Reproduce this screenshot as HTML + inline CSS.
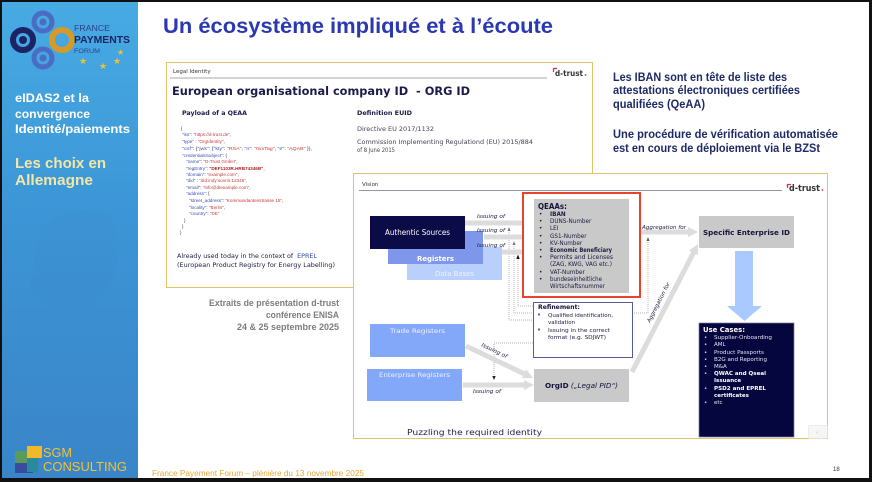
<!DOCTYPE html>
<html><head><meta charset="utf-8">
<style>
html,body{margin:0;padding:0;background:#fff;}
svg{display:block}
.v{font-family:"DejaVu Sans","Liberation Sans",sans-serif}
.c{font-family:"Liberation Sans","DejaVu Sans",sans-serif}
</style></head><body>
<svg width="876" height="482" viewBox="0 0 876 482" xmlns="http://www.w3.org/2000/svg">
<defs>
<linearGradient id="sb" x1="0" y1="0" x2="0" y2="1">
<stop offset="0" stop-color="#47abe3"/>
<stop offset="0.45" stop-color="#3c95d6"/>
<stop offset="1" stop-color="#3985c8"/>
</linearGradient>
<marker id="ga" viewBox="0 0 10 10" refX="0" refY="5" markerWidth="2" markerHeight="2" orient="auto"><path d="M0,0 L10,5 L0,10z" fill="#dcdcdc"/></marker>
</defs>
<!-- frame -->
<rect x="0" y="0" width="872" height="482" fill="#111"/>
<rect x="2" y="2" width="867" height="476" fill="#fff"/>
<!-- sidebar -->
<rect x="2" y="2" width="136" height="476" fill="url(#sb)"/>
<path d="M40 230 Q70 200 110 215 Q130 260 100 300 Q60 320 30 290 Z" fill="#3a8ccd" opacity="0.25"/>
<!-- logo -->
<circle cx="43" cy="22" r="9" fill="none" stroke="#4a6cc2" stroke-width="5"/>
<circle cx="43" cy="22" r="3.5" fill="#4a6cc2"/>
<circle cx="43" cy="58" r="9" fill="none" stroke="#4a6cc2" stroke-width="5"/>
<circle cx="43" cy="58" r="3.5" fill="#4a6cc2"/>
<circle cx="23" cy="40" r="10" fill="none" stroke="#1c2466" stroke-width="6"/>
<circle cx="23" cy="40" r="4" fill="#1c2466"/>
<circle cx="62" cy="40" r="10" fill="none" stroke="#d69a2a" stroke-width="6"/>
<text x="74" y="31" class="c" font-size="8.5" fill="#2d3f8a" textLength="36" lengthAdjust="spacingAndGlyphs">FRANCE</text>
<text x="74" y="43" class="c" font-size="10.5" font-weight="bold" fill="#1b2466" textLength="56" lengthAdjust="spacingAndGlyphs">PAYMENTS</text>
<text x="74" y="53" class="c" font-size="6.5" fill="#2d3f8a" textLength="26" lengthAdjust="spacingAndGlyphs">FORUM</text>
<text x="79" y="64" class="v" font-size="9" fill="#f2c232">★</text>
<text x="99" y="69" class="v" font-size="9" fill="#f2c232">★</text>
<text x="113" y="64" class="v" font-size="9" fill="#f2c232">★</text>
<text x="117" y="55" class="v" font-size="8" fill="#f2c232">★</text>
<!-- sidebar texts -->
<text x="15" y="102" class="c" font-size="11.5" font-weight="bold" fill="#fff" textLength="74" lengthAdjust="spacingAndGlyphs">eIDAS2 et la</text>
<text x="15" y="118" class="c" font-size="11.5" font-weight="bold" fill="#fff" textLength="75" lengthAdjust="spacingAndGlyphs">convergence</text>
<text x="15" y="133" class="c" font-size="11.5" font-weight="bold" fill="#fff" textLength="115" lengthAdjust="spacingAndGlyphs">Identité/paiements</text>
<text x="15" y="168" class="c" font-size="14.5" font-weight="bold" fill="#f4e7a6" textLength="91" lengthAdjust="spacingAndGlyphs">Les choix en</text>
<text x="15" y="185" class="c" font-size="14.5" font-weight="bold" fill="#f4e7a6" textLength="78" lengthAdjust="spacingAndGlyphs">Allemagne</text>
<!-- SGM logo -->
<rect x="27" y="446" width="15" height="12" fill="#f2b82a"/>
<rect x="15" y="451" width="12" height="12" fill="#5a9a5a"/>
<rect x="15" y="463" width="18" height="10" fill="#3a4aa0"/>
<rect x="27" y="458" width="11" height="14" fill="#2a8a9a"/>
<text x="43" y="457" class="c" font-size="13" fill="#f3c233" textLength="29" lengthAdjust="spacingAndGlyphs">SGM</text>
<text x="43" y="471" class="c" font-size="13" fill="#f3c233" textLength="84" lengthAdjust="spacingAndGlyphs">CONSULTING</text>
<!-- title -->
<text x="163" y="33" class="c" font-size="21" font-weight="bold" fill="#2a38b2" textLength="390" lengthAdjust="spacingAndGlyphs">Un écosystème impliqué et à l’écoute</text>
<!-- footer -->
<text x="152" y="476" class="c" font-size="8.5" fill="#e5a63a" textLength="212" lengthAdjust="spacingAndGlyphs">France Payement Forum – plénière du 13 novembre 2025</text>
<text x="833" y="471" class="c" font-size="6" fill="#333">18</text>

<!-- top card -->
<rect x="166.5" y="62.5" width="426" height="225" fill="#fff" stroke="#e2c468" stroke-width="1"/>
<text x="173" y="73" class="v" font-size="5.5" fill="#333">Legal Identity</text>
<line x1="170" y1="78" x2="547" y2="78" stroke="#8a8aa6" stroke-width="0.7"/>
<path d="M553.5 72 V68.5 H557" fill="none" stroke="#e0303a" stroke-width="1.3"/>
<text x="555" y="76" class="v" font-size="8" font-weight="bold" fill="#333" textLength="28" lengthAdjust="spacingAndGlyphs">d-trust</text>
<circle cx="585.5" cy="75" r="0.9" fill="#e0303a"/>
<text x="172" y="95" class="v" font-size="11.5" font-weight="bold" fill="#1b1b4b" textLength="298" lengthAdjust="spacingAndGlyphs">European organisational company ID&#160; - ORG ID</text>
<text x="182" y="115" class="v" font-size="6.5" font-weight="bold" fill="#1b1b4b" textLength="65" lengthAdjust="spacingAndGlyphs">Payload of a QEAA</text>
<text x="357" y="115" class="v" font-size="6.5" font-weight="bold" fill="#1b1b4b" textLength="55" lengthAdjust="spacingAndGlyphs">Definition EUID</text>
<text x="357" y="131" class="v" font-size="6.2" fill="#444455" textLength="77" lengthAdjust="spacingAndGlyphs">Directive EU 2017/1132</text>
<text x="357" y="144" class="v" font-size="6.2" fill="#444455" textLength="176" lengthAdjust="spacingAndGlyphs">Commission Implementing Regulationd (EU) 2015/884</text>
<text x="357" y="152" class="v" font-size="6.2" fill="#444455" textLength="38" lengthAdjust="spacingAndGlyphs">of 8 June 2015</text>
<g class="c" font-size="4.6" fill="#333">
<text x="181" y="130">{</text>
<text x="182" y="136"><tspan fill="#3a4fb0">"iss"</tspan>: <tspan fill="#c83a3a">"https://d-trust.de"</tspan>,</text>
<text x="182" y="143"><tspan fill="#3a4fb0">"type"</tspan> : <tspan fill="#c83a3a">"OrgIdentity"</tspan>,</text>
<text x="182" y="150" textLength="130" lengthAdjust="spacingAndGlyphs"><tspan fill="#3a4fb0">"cnf"</tspan>: {<tspan fill="#3a4fb0">"jwk"</tspan>: {<tspan fill="#3a4fb0">"kty"</tspan>: <tspan fill="#c83a3a">"RSA"</tspan>, <tspan fill="#3a4fb0">"n"</tspan>: <tspan fill="#c83a3a">"0vxTag"</tspan>, <tspan fill="#3a4fb0">"e"</tspan>: <tspan fill="#c83a3a">"AQAB"</tspan> }},</text>
<text x="182" y="157"><tspan fill="#3a4fb0">"credentialsSubject"</tspan>: {</text>
<text x="186" y="163"><tspan fill="#3a4fb0">"name"</tspan>: <tspan fill="#c83a3a">"D-Trust GmbH"</tspan>,</text>
<text x="186" y="170"><tspan fill="#3a4fb0">"regEntry"</tspan>: <tspan fill="#b02020" font-weight="bold">"DEF1103R.HRB74346B"</tspan>,</text>
<text x="186" y="176"><tspan fill="#3a4fb0">"domain"</tspan>: <tspan fill="#c83a3a">"example.com"</tspan>,</text>
<text x="186" y="182"><tspan fill="#3a4fb0">"did"</tspan> : <tspan fill="#c83a3a">"did:indy:sovrin:12345"</tspan>,</text>
<text x="186" y="189"><tspan fill="#3a4fb0">"email"</tspan>: <tspan fill="#c83a3a">"info@dtexample.com"</tspan>,</text>
<text x="186" y="195"><tspan fill="#3a4fb0">"address"</tspan>: {</text>
<text x="189" y="202"><tspan fill="#3a4fb0">"street_address"</tspan>: <tspan fill="#c83a3a">"Kommandantenstrasse 15"</tspan>,</text>
<text x="189" y="209"><tspan fill="#3a4fb0">"locality"</tspan>: <tspan fill="#c83a3a">"Berlin"</tspan>,</text>
<text x="189" y="215"><tspan fill="#3a4fb0">"country"</tspan>: <tspan fill="#c83a3a">"DE"</tspan></text>
<text x="184" y="222">}</text>
<text x="182" y="228">}</text>
<text x="180" y="234">}</text>
</g>
<text x="177" y="258" class="v" font-size="6" fill="#22224a" textLength="140" lengthAdjust="spacingAndGlyphs">Already used today in the context of&#160; <tspan fill="#3344aa">EPREL</tspan></text>
<text x="177" y="267" class="v" font-size="6" fill="#22224a" textLength="158" lengthAdjust="spacingAndGlyphs">(European Product Registry for Energy Labelling)</text>
<!-- extraits -->
<g class="c" font-size="9" font-weight="bold" fill="#7c7c7c" text-anchor="end">
<text x="339" y="306" textLength="130" lengthAdjust="spacingAndGlyphs">Extraits de présentation d-trust</text>
<text x="339" y="318" textLength="73" lengthAdjust="spacingAndGlyphs">conférence ENISA</text>
<text x="339" y="330" textLength="102" lengthAdjust="spacingAndGlyphs">24 &amp; 25 septembre 2025</text>
</g>
<!-- right text -->
<g class="c" font-size="11.5" font-weight="bold" fill="#1e2a66">
<text x="613" y="81" textLength="174" lengthAdjust="spacingAndGlyphs">Les IBAN sont en tête de liste des</text>
<text x="613" y="94" textLength="187" lengthAdjust="spacingAndGlyphs">attestations électroniques certifiées</text>
<text x="613" y="108" textLength="92" lengthAdjust="spacingAndGlyphs">qualifiées (QeAA)</text>
<text x="613" y="138" textLength="225" lengthAdjust="spacingAndGlyphs">Une procédure de vérification automatisée</text>
<text x="613" y="152" textLength="207" lengthAdjust="spacingAndGlyphs">est en cours de déploiement via le BZSt</text>
</g>

<!-- vision card -->
<rect x="353.5" y="173.5" width="474" height="265" fill="#fff" stroke="#e2c468" stroke-width="1"/>
<text x="362" y="186" class="v" font-size="5.5" fill="#333">Vision</text>
<line x1="359" y1="190.5" x2="782" y2="190.5" stroke="#707090" stroke-width="0.7"/>
<path d="M787.5 188 V184.5 H791" fill="none" stroke="#e0303a" stroke-width="1.3"/>
<text x="789" y="191" class="v" font-size="8.5" font-weight="bold" fill="#333" textLength="31" lengthAdjust="spacingAndGlyphs">d-trust</text>
<circle cx="822.5" cy="190" r="0.9" fill="#e0303a"/>

<!-- source boxes -->
<rect x="407" y="247" width="95" height="33" fill="#b9cffc"/>
<rect x="388" y="231" width="95" height="33" fill="#7e97ea"/>
<rect x="370" y="216" width="95" height="33" fill="#0b0b47"/>
<text x="417.5" y="235" class="v" font-size="7.5" fill="#fff" text-anchor="middle" textLength="65" lengthAdjust="spacingAndGlyphs">Authentic Sources</text>
<text x="435.5" y="261" class="v" font-size="7" font-weight="bold" fill="#fff" text-anchor="middle" textLength="37" lengthAdjust="spacingAndGlyphs">Registers</text>
<text x="454.5" y="276" class="v" font-size="7" fill="#eef3ff" text-anchor="middle" textLength="39" lengthAdjust="spacingAndGlyphs">Data Bases</text>

<!-- dotted lines -->
<g fill="none" stroke="#9a9a9a" stroke-width="0.7" stroke-dasharray="1,1">
<path d="M509 230 V320 H533"/>
<path d="M514 244 V313 H533"/>
<path d="M518 258 V306 H533"/>
<path d="M648 240 V313 H633"/>
<path d="M533 343 H494 V376"/>
</g>
<path d="M507.5 231 L509 227 L510.5 231Z" fill="#777"/>
<path d="M512.5 245 L514 241 L515.5 245Z" fill="#777"/>
<path d="M516.3 259 L518 254.5 L519.7 259Z" fill="#111"/>
<path d="M646.5 241 L648 237 L649.5 241Z" fill="#555"/>
<path d="M492.3 376 L494 380 L495.7 376Z" fill="#222"/>

<!-- gray arrows -->
<g stroke="#dcdcdc" stroke-width="5" fill="none" marker-end="url(#ga)">
<line x1="465" y1="223" x2="526" y2="223"/>
<line x1="484" y1="237" x2="526" y2="237"/>
<line x1="502" y1="252" x2="526" y2="252"/>
<line x1="632" y1="232" x2="688" y2="232"/>
<line x1="463" y1="385" x2="524" y2="385"/>
<line x1="466" y1="346" x2="524" y2="373.7"/>
<line x1="632" y1="372" x2="693.4" y2="252.9"/>
</g>
<g class="v" font-size="5.5" font-style="italic" fill="#22224a">
<text x="477" y="218" textLength="28" lengthAdjust="spacingAndGlyphs">Issuing of</text>
<text x="477" y="232" textLength="28" lengthAdjust="spacingAndGlyphs">Issuing of</text>
<text x="477" y="247" textLength="28" lengthAdjust="spacingAndGlyphs">Issuing of</text>
<text x="642" y="229" textLength="44" lengthAdjust="spacingAndGlyphs">Aggregation for</text>
<text x="473" y="393" textLength="28" lengthAdjust="spacingAndGlyphs">Issuing of</text>
<text x="481" y="346" transform="rotate(26 481 346)" textLength="28" lengthAdjust="spacingAndGlyphs">Issuing of</text>
<text x="650" y="323" transform="rotate(-63 650 323)" textLength="44" lengthAdjust="spacingAndGlyphs">Aggregation for</text>
</g>

<!-- QEAAs box -->
<rect x="523" y="193" width="117" height="104" fill="#fff" stroke="#e8432e" stroke-width="2"/>
<rect x="534" y="199" width="95" height="94" fill="#c9c9c9"/>
<text x="538" y="209" class="v" font-size="8" font-weight="bold" fill="#14143c" textLength="29" lengthAdjust="spacingAndGlyphs">QEAAs:</text>
<g class="v" font-size="5.7" fill="#1a1a40">
<text x="539" y="216">•</text><text x="550" y="216" font-weight="bold">IBAN</text>
<text x="539" y="223">•</text><text x="550" y="223">DUNS-Number</text>
<text x="539" y="230">•</text><text x="550" y="230">LEI</text>
<text x="539" y="238">•</text><text x="550" y="238">GS1-Number</text>
<text x="539" y="245">•</text><text x="550" y="245">KV-Number</text>
<text x="539" y="252">•</text><text x="550" y="252" font-weight="bold" textLength="62" lengthAdjust="spacingAndGlyphs">Economic Beneficiary</text>
<text x="539" y="259">•</text><text x="550" y="259" textLength="63" lengthAdjust="spacingAndGlyphs">Permits and Licenses</text>
<text x="550" y="266" textLength="62" lengthAdjust="spacingAndGlyphs">(ZAG, KWG, VAG etc.)</text>
<text x="539" y="274">•</text><text x="550" y="274">VAT-Number</text>
<text x="539" y="281">•</text><text x="550" y="281" textLength="52" lengthAdjust="spacingAndGlyphs">bundeseinheitliche</text>
<text x="550" y="288" textLength="55" lengthAdjust="spacingAndGlyphs">Wirtschaftsnummer</text>
</g>

<!-- Refinement -->
<rect x="533.5" y="302.5" width="99" height="55" fill="#fff" stroke="#5a5a9a" stroke-width="1"/>
<text x="538" y="309" class="v" font-size="6.5" font-weight="bold" fill="#14143c" textLength="42" lengthAdjust="spacingAndGlyphs">Refinement:</text>
<g class="v" font-size="5.5" fill="#1a1a40">
<rect x="538" y="313.5" width="2" height="2" fill="#4a66c8"/>
<text x="548" y="317" textLength="65" lengthAdjust="spacingAndGlyphs">Qualified identification,</text>
<text x="548" y="324">validation</text>
<rect x="538" y="328.5" width="2" height="2" fill="#4a66c8"/>
<text x="548" y="332" textLength="62" lengthAdjust="spacingAndGlyphs">Issuing in the correct</text>
<text x="548" y="339" textLength="58" lengthAdjust="spacingAndGlyphs">format (e.g. SDJWT)</text>
</g>

<!-- Specific Enterprise ID -->
<rect x="699" y="216" width="95" height="32" fill="#c9c9c9"/>
<text x="746.5" y="235" class="v" font-size="7.3" font-weight="bold" fill="#14143c" text-anchor="middle" textLength="87" lengthAdjust="spacingAndGlyphs">Specific Enterprise ID</text>
<!-- blue arrow -->
<path d="M735 251 H753 V306 H762 L744.5 321 L727 306 H735 Z" fill="#aac9ff"/>
<!-- Use cases -->
<rect x="699" y="323" width="95" height="114" fill="#06063f" stroke="#7a7aa0" stroke-width="0.7"/>
<text x="703" y="332" class="v" font-size="7" font-weight="bold" fill="#fff" textLength="42" lengthAdjust="spacingAndGlyphs">Use Cases:</text>
<g class="v" font-size="5.5" fill="#e4e4f2">
<text x="704" y="339">•</text><text x="714" y="339" textLength="58" lengthAdjust="spacingAndGlyphs">Supplier-Onboarding</text>
<text x="704" y="346">•</text><text x="714" y="346">AML</text>
<text x="704" y="354">•</text><text x="714" y="354" textLength="50" lengthAdjust="spacingAndGlyphs">Product Passports</text>
<text x="704" y="361">•</text><text x="714" y="361" textLength="53" lengthAdjust="spacingAndGlyphs">B2G and Reporting</text>
<text x="704" y="368">•</text><text x="714" y="368">M&amp;A</text>
<text x="704" y="375">•</text><text x="714" y="375" font-weight="bold" fill="#fff" textLength="52" lengthAdjust="spacingAndGlyphs">QWAC and Qseal</text>
<text x="714" y="382" font-weight="bold" fill="#fff">Issuance</text>
<text x="704" y="390">•</text><text x="714" y="390" font-weight="bold" fill="#fff" textLength="52" lengthAdjust="spacingAndGlyphs">PSD2 and EPREL</text>
<text x="714" y="397" font-weight="bold" fill="#fff">certificates</text>
<text x="704" y="404">•</text><text x="714" y="404">etc</text>
</g>

<!-- Trade / Enterprise registers -->
<rect x="370" y="324" width="95" height="33" fill="#83a8fa"/>
<text x="417.5" y="333" class="v" font-size="6.5" fill="#eef2ff" text-anchor="middle" textLength="55" lengthAdjust="spacingAndGlyphs">Trade Registers</text>
<rect x="367" y="369" width="95" height="32" fill="#83a8fa"/>
<text x="414.5" y="377" class="v" font-size="6.5" fill="#eef2ff" text-anchor="middle" textLength="71" lengthAdjust="spacingAndGlyphs">Enterprise Registers</text>
<!-- OrgID -->
<rect x="534" y="369" width="95" height="33" fill="#c9c9c9"/>
<text x="581.5" y="388" class="v" font-size="7" fill="#14143c" text-anchor="middle" textLength="73" lengthAdjust="spacingAndGlyphs"><tspan font-weight="bold">OrgID</tspan><tspan font-style="italic"> („Legal PID“)</tspan></text>

<text x="407" y="435" class="v" font-size="8" fill="#202050" textLength="135" lengthAdjust="spacingAndGlyphs">Puzzling the required identity</text>
<rect x="808.5" y="425.5" width="19" height="13" fill="#f6f6f6" stroke="#e2e2e2" stroke-width="0.6"/>
<text x="816" y="434" class="v" font-size="5" fill="#aaa">‹</text>
</svg>
</body></html>
